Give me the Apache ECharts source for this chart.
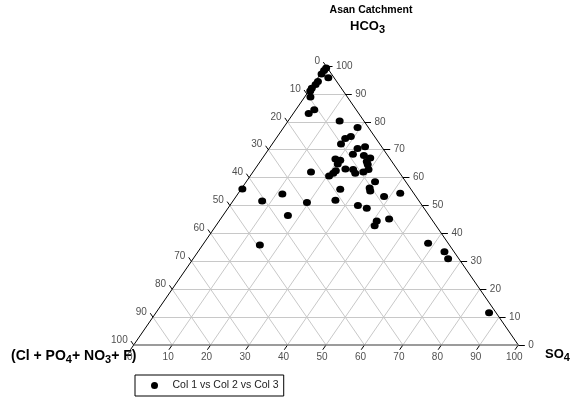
<!DOCTYPE html>
<html>
<head>
<meta charset="utf-8">
<script src="https://cdn.jsdelivr.net/npm/echarts@6/dist/echarts.min.js"></script>
<style>
  html, body { margin: 0; padding: 0; background: #fff; }
  #main { width: 581px; height: 402px; }
</style>
</head>
<body>
<div id="main"></div>
<script>
// ternary values (SO4 %, HCO3 %); Cl+PO4+NO3+F is the rest
var so4Vals = [0.4, 0.3, 0.3, 2.7, 0.7, 0.6, 0.3, 0.4, 1.5, 4.8, 4.0, 13.4, 19.2, 19.1, 18.0, 17.9,
  24.6, 23.0, 22.8, 25.9, 28.0, 19.1, 20.6, 27.7, 20.6, 28.5, 29.6, 23.5, 25.6, 26.8, 28.7, 21.3,
  21.1, 20.5, 15.1, 33.5, 25.8, 33.2, 33.9, 42.1, 38.5, 11.6, 7.6, 0.3, 26.5, 19.5, 33.3, 36.1,
  16.9, 41.0, 41.3, 43.8, 14.9, 58.3, 64.1, 66.3, 86.6];
var hco3Vals = [99.3, 98.4, 97.1, 95.8, 94.4, 93.4, 92.0, 91.0, 88.9, 84.3, 83.0, 80.3, 78.0, 74.7, 74.0, 72.0,
  71.1, 70.4, 68.4, 67.9, 67.0, 66.7, 66.2, 65.8, 64.9, 64.7, 62.9, 63.1, 62.9, 61.6, 62.0, 62.5,
  61.6, 60.6, 62.0, 58.5, 55.8, 56.3, 55.2, 54.4, 53.2, 54.1, 51.6, 55.9, 51.9, 51.1, 50.0, 49.0,
  46.4, 44.4, 42.7, 45.2, 35.8, 36.5, 33.4, 30.9, 11.6];
var tickVals = [0, 10, 20, 30, 40, 50, 60, 70, 80, 90, 100];
var seriesName = 'Col 1 vs Col 2 vs Col 3';

var FONT = 'Liberation Sans, Arial, sans-serif';

// ternary (so4, hco3) -> plane coords on a 0..100 x 0..100 cartesian grid
function tern(s, h) {
  return [s + h / 2, h];
}

var gridLines = [];
for (var i = 1; i < 10; i++) {
  var k = tickVals[i];
  gridLines.push({ coords: [tern(0, k), tern(100 - k, k)] });       // HCO3 = k
  gridLines.push({ coords: [tern(k, 0), tern(k, 100 - k)] });       // SO4 = k
  gridLines.push({ coords: [tern(100 - k, 0), tern(0, 100 - k)] }); // Cl = k
}

var tickLines = [];
tickVals.forEach(function (k) {
  tickLines.push({ coords: [tern(100 - k, k), tern(101.7 - k, k)] });
  tickLines.push({ coords: [tern(0, 100 - k), tern(-1.4, 101.4 - k)] });
  tickLines.push({ coords: [tern(k, 0), tern(k, -1.7)] });
});

var points = so4Vals.map(function (s, i) {
  return tern(s, hco3Vals[i]);
});

function labelSeries(data, pos, align) {
  return {
    type: 'scatter',
    symbolSize: 0,
    silent: true,
    clip: false,
    data: data,
    label: {
      show: true,
      position: pos,
      align: align,
      verticalAlign: 'middle',
      fontFamily: FONT,
      fontSize: 10,
      color: '#222',
      formatter: function (p) { return p.data[2]; }
    }
  };
}

var rightLabels = tickVals.map(function (k) { return tern(100 - k, k).concat([String(k)]); });
var leftLabels = tickVals.map(function (k) { return tern(0, 100 - k).concat([String(k)]); });
var bottomLabels = tickVals.map(function (k) { return tern(k, 0).concat([String(k)]); });

// bold label with subscript digits
function subRich(size) {
  return {
    m: { fontFamily: FONT, fontSize: size, fontWeight: 'bold', lineHeight: 18, verticalAlign: 'middle', fill: '#000' },
    s: { fontFamily: FONT, fontSize: 11, fontWeight: 'bold', lineHeight: 11, verticalAlign: 'bottom', fill: '#000' }
  };
}

var chart = echarts.init(document.getElementById('main'));

var option = {
  animation: false,
  backgroundColor: '#fff',
  grid: { left: 133.7, right: 62.7, top: 66, bottom: 57 },
  xAxis: { type: 'value', min: 0, max: 100, show: false },
  yAxis: { type: 'value', min: 0, max: 100, show: false },
  legend: {
    data: [seriesName],
    left: 135,
    top: 375,
    icon: 'circle',
    itemWidth: 8,
    itemHeight: 7,
    padding: [5, 5, 5, 16],
    borderColor: '#000',
    borderWidth: 1,
    borderRadius: 0,
    textStyle: { fontFamily: FONT, fontSize: 10.5, color: '#222', padding: [0, 0, 0, 9] }
  },
  graphic: [
    {
      type: 'text', x: 371, y: 5,
      style: { text: 'Asan Catchment', align: 'center', font: 'bold 10.5px ' + FONT, fill: '#000' }
    },
    {
      type: 'text', x: 350, y: 17,
      style: { text: '{m|HCO}{s|3}', rich: subRich(13) }
    },
    {
      type: 'text', x: 11, y: 347,
      style: { text: '{m|(Cl + PO}{s|4}{m|+ NO}{s|3}{m|+ F)}', rich: subRich(14) }
    },
    {
      type: 'text', x: 545, y: 345,
      style: { text: '{m|SO}{s|4}', rich: subRich(13) }
    }
  ],
  series: [
    {
      type: 'lines',
      coordinateSystem: 'cartesian2d',
      silent: true,
      lineStyle: { color: '#c8c8c8', width: 1, opacity: 1 },
      data: gridLines
    },
    {
      type: 'lines',
      coordinateSystem: 'cartesian2d',
      silent: true,
      clip: false,
      lineStyle: { color: '#000', width: 1, opacity: 1 },
      data: tickLines
    },
    {
      type: 'lines',
      coordinateSystem: 'cartesian2d',
      silent: true,
      clip: false,
      lineStyle: { color: '#000', width: 1, opacity: 1 },
      data: [
        { coords: [tern(0, 0), tern(0, 100)] },
        { coords: [tern(100, 0), tern(0, 100)] },
        { coords: [tern(0, 0), tern(100, 0)], lineStyle: { color: '#7a7a7a', width: 1.5 } }
      ]
    },
    {
      name: seriesName,
      type: 'scatter',
      clip: false,
      symbol: 'circle',
      symbolSize: [8, 7],
      itemStyle: { color: '#000', opacity: 1 },
      data: points,
      z: 5
    },
    labelSeries(rightLabels, [10, 0], 'left'),
    labelSeries(leftLabels, [-6, -5], 'right'),
    labelSeries(bottomLabels, [-4, 12], 'center')
  ]
};

chart.setOption(option);
</script>
</body>
</html>
